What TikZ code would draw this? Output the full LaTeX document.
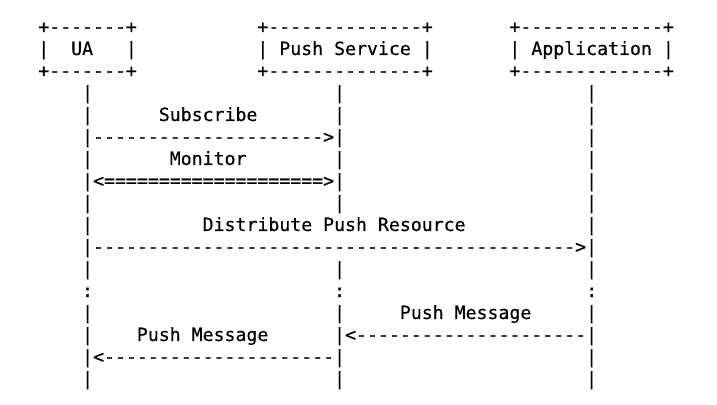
\documentclass[tikz,border=0pt]{standalone}
\usepackage{fontspec}
\setmonofont{DejaVu Sans Mono}[FakeBold=0.4]
\ExplSyntaxOn
\NewDocumentCommand\rep{mm}{\prg_replicate:nn{#1}{#2}}
\ExplSyntaxOff
\newcommand\sk[1]{\rep{#1}{\ }}
\tikzset{
  asciiline/.style={anchor=base west, inner sep=0pt, outer sep=0pt,
    font=\ttfamily\fontsize{18.2}{22}\selectfont, text=black},
}
\begin{document}
\begin{tikzpicture}[x=1pt,y=1pt]
\useasboundingbox (0,0) rectangle (717,404);
\fill[white] (0,0) rectangle (717,404);
\def\xo{38.3}
\def\yo{-2}
\begin{scope}[yshift=\yo]
\node[asciiline] (l1) at (\xo,373) {+\rep{7}{-}+\sk{11}+\rep{14}{-}+\sk{7}+\rep{13}{-}+};
\node[asciiline] (l2) at (\xo,351) {|\sk{2}UA\sk{3}|\sk{11}|\sk{1}Push\ Service\sk{1}|\sk{7}|\sk{1}Application\sk{1}|};
\node[asciiline] (l3) at (\xo,329) {+\rep{7}{-}+\sk{11}+\rep{14}{-}+\sk{7}+\rep{13}{-}+};
\node[asciiline] (l4) at (\xo,307) {\sk{4}|\sk{22}|\sk{22}|};
\node[asciiline] (l5) at (\xo,285) {\sk{4}|\sk{6}Subscribe\sk{7}|\sk{22}|};
\node[asciiline] (l6) at (\xo,263) {\sk{4}|\rep{21}{-}>|\sk{22}|};
\node[asciiline] (l7) at (\xo,241) {\sk{4}|\sk{7}Monitor\sk{8}|\sk{22}|};
\node[asciiline] (l8) at (\xo,219) {\sk{4}|<\rep{20}{=}>|\sk{22}|};
\node[asciiline] (l9) at (\xo,197) {\sk{4}|\sk{22}|\sk{22}|};
\node[asciiline] (l10) at (\xo,175) {\sk{4}|\sk{10}Distribute\ Push\ Resource\sk{11}|};
\node[asciiline] (l11) at (\xo,153) {\sk{4}|\rep{44}{-}>|};
\node[asciiline] (l12) at (\xo,131) {\sk{4}|\sk{22}|\sk{22}|};
\node[asciiline] (l13) at (\xo,109) {\sk{4}:\sk{22}:\sk{22}:};
\node[asciiline] (l14) at (\xo,87) {\sk{4}|\sk{22}|\sk{5}Push\ Message\sk{5}|};
\node[asciiline] (l15) at (\xo,65) {\sk{4}|\sk{4}Push\ Message\sk{6}|<\rep{21}{-}|};
\node[asciiline] (l16) at (\xo,43) {\sk{4}|<\rep{21}{-}|\sk{22}|};
\node[asciiline] (l17) at (\xo,21) {\sk{4}|\sk{22}|\sk{22}|};
\end{scope}
\end{tikzpicture}
\end{document}
